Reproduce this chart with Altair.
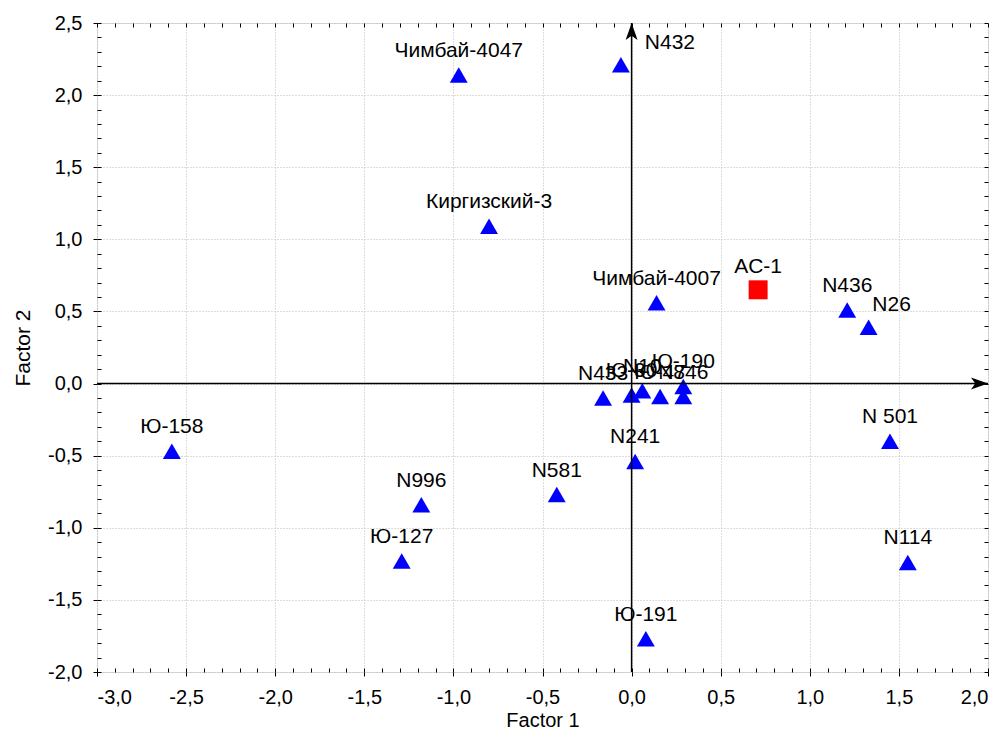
import altair as alt
import numpy as np
import pandas as pd

# ---- data ----
names = ["Чимбай-4047", "N432", "Киргизский-3", "Чимбай-4007", "N436", "N26",
         "N433", "Ю-30", "N10", "Ю-47", "Ю-190", "N846",
         "N 501", "N114", "Ю-158", "N996", "Ю-127", "N581", "N241", "Ю-191"]
f1 = [-0.97, -0.06, -0.80, 0.14, 1.21, 1.33,
      -0.16, 0.00, 0.06, 0.16, 0.29, 0.29,
      1.45, 1.55, -2.58, -1.18, -1.29, -0.42, 0.02, 0.08]
f2 = [2.14, 2.21, 1.09, 0.56, 0.51, 0.39,
      -0.10, -0.08, -0.05, -0.09, -0.02, -0.09,
      -0.40, -1.24, -0.47, -0.84, -1.23, -0.77, -0.54, -1.77]

ref_name = ["AC-1"]
ref_f1 = [0.71]
ref_f2 = [0.65]

x_range = [-3.0, 2.0]
y_range = [-2.0, 2.5]
x_major = [-3.0, -2.5, -2.0, -1.5, -1.0, -0.5, 0.0, 0.5, 1.0, 1.5, 2.0]
y_major = [-2.0, -1.5, -1.0, -0.5, 0.0, 0.5, 1.0, 1.5, 2.0, 2.5]
x_minor = [round(v, 1) for v in np.arange(-3.0, 2.05, 0.1)]
y_minor = [round(v, 1) for v in np.arange(-2.0, 2.55, 0.1)]

df = pd.DataFrame({"name": names, "f1": f1, "f2": f2})
df_ref = pd.DataFrame({"name": ref_name, "f1": ref_f1, "f2": ref_f2})

FONT = "Liberation Sans"
LBL = 21
fmt = "replace(replace(format(datum.value, '.1f'), '.', ','), '\u2212', '-')"

xs = alt.Scale(domain=x_range, nice=False, zero=False)
ys = alt.Scale(domain=y_range, nice=False, zero=False)

x_main = alt.X("f1:Q", scale=xs, axis=alt.Axis(
    values=x_major, labelExpr=fmt, title="Factor 1", grid=True,
    gridColor="#bbbbbb", gridDash=[1, 2], gridWidth=1,
    domain=False, tickColor="black", tickSize=4, labelPadding=11,
    labelFont=FONT, labelFontSize=20, labelColor="black",
    titleFont=FONT, titleFontSize=20, titleFontWeight="normal",
    titleColor="black", titlePadding=3))
y_main = alt.Y("f2:Q", scale=ys, axis=alt.Axis(
    values=y_major, labelExpr=fmt, title="Factor 2", grid=True,
    gridColor="#bbbbbb", gridDash=[1, 2], gridWidth=1,
    domain=False, tickColor="black", tickSize=4, labelPadding=11,
    labelFont=FONT, labelFontSize=20, labelColor="black",
    titleFont=FONT, titleFontSize=21, titleFontWeight="normal",
    titleColor="black", titlePadding=14))

pts = alt.Chart(df).mark_point(shape="triangle-up", filled=True, size=320,
                               color="#0000ff", opacity=1).encode(x=x_main, y=y_main)

def no_axis_x():
    return alt.X("f1:Q", scale=xs, axis=None)

def no_axis_y():
    return alt.Y("f2:Q", scale=ys, axis=None)

center_df = df[~df["name"].isin(["N432", "N26"])]
labels = alt.Chart(center_df).mark_text(
    font=FONT, fontSize=LBL, color="black", dy=-24, baseline="middle", align="center"
).encode(x=no_axis_x(), y=no_axis_y(), text="name:N")
lab_432 = alt.Chart(df[df["name"] == "N432"]).mark_text(
    font=FONT, fontSize=LBL, color="black", dx=49, dy=-22, baseline="middle", align="center"
).encode(x=no_axis_x(), y=no_axis_y(), text="name:N")
lab_26 = alt.Chart(df[df["name"] == "N26"]).mark_text(
    font=FONT, fontSize=LBL, color="black", dx=23, dy=-22, baseline="middle", align="center"
).encode(x=no_axis_x(), y=no_axis_y(), text="name:N")

ref_pt = alt.Chart(df_ref).mark_point(shape="square", filled=True, size=360,
                                      color="#ff0000", opacity=1).encode(x=no_axis_x(), y=no_axis_y())
ref_lab = alt.Chart(df_ref).mark_text(
    font=FONT, fontSize=LBL, color="black", dy=-23, baseline="middle", align="center"
).encode(x=no_axis_x(), y=no_axis_y(), text="name:N")

# axis lines through the origin with arrowheads
vline = pd.DataFrame({"f1": [0.0], "f2": [y_range[0]], "f2b": [y_range[1]]})
hline = pd.DataFrame({"f2": [0.0], "f1": [x_range[0]], "f1b": [x_range[1]]})
vrule = alt.Chart(vline).mark_rule(color="black", strokeWidth=1.5).encode(
    x=no_axis_x(), y=no_axis_y(), y2="f2b:Q")
hrule = alt.Chart(hline).mark_rule(color="black", strokeWidth=1.5).encode(
    y=no_axis_y(), x=no_axis_x(), x2="f1b:Q")
up_arrow = alt.Chart(pd.DataFrame({"f1": [0.0], "f2": [y_range[1]]})).mark_point(
    shape="M0,0 L-0.7,2 L0,1.5 L0.7,2 Z", filled=True, size=290, color="black", opacity=1
).encode(x=no_axis_x(), y=no_axis_y())
right_arrow = alt.Chart(pd.DataFrame({"f1": [x_range[1]], "f2": [0.0]})).mark_point(
    shape="M0,0 L-2,-0.7 L-1.5,0 L-2,0.7 Z", filled=True, size=290, color="black", opacity=1
).encode(x=no_axis_x(), y=no_axis_y())

# minor inner ticks on all four sides
def minor_x(orient):
    return alt.Chart(pd.DataFrame({"f1": [x_range[0]], "f2": [y_range[0]]})).mark_point(
        opacity=0, size=1).encode(
        x=alt.X("f1:Q", scale=xs, axis=alt.Axis(
            orient=orient, values=x_minor, labels=False, domain=False, grid=False,
            ticks=True, tickSize=4, tickColor="black", offset=-4, title=None)),
        y=no_axis_y())

def minor_y(orient):
    return alt.Chart(pd.DataFrame({"f1": [x_range[0]], "f2": [y_range[0]]})).mark_point(
        opacity=0, size=1).encode(
        y=alt.Y("f2:Q", scale=ys, axis=alt.Axis(
            orient=orient, values=y_minor, labels=False, domain=False, grid=False,
            ticks=True, tickSize=4, tickColor="black", offset=-4, title=None)),
        x=no_axis_x())

chart = alt.layer(
    pts, minor_x("bottom"), minor_x("top"), minor_y("left"), minor_y("right"),
    vrule, hrule, up_arrow, right_arrow, ref_pt, labels, lab_432, lab_26, ref_lab
).resolve_axis(x="independent", y="independent").properties(
    width=891, height=649,
    autosize=alt.AutoSizeParams(type="none"),
    padding={"left": 89, "top": 15, "right": 7, "bottom": 62},
).configure_view(stroke="black", strokeWidth=1.5).configure(background="white")

chart.save("out.html", embed_options={"renderer": "svg", "actions": False})
